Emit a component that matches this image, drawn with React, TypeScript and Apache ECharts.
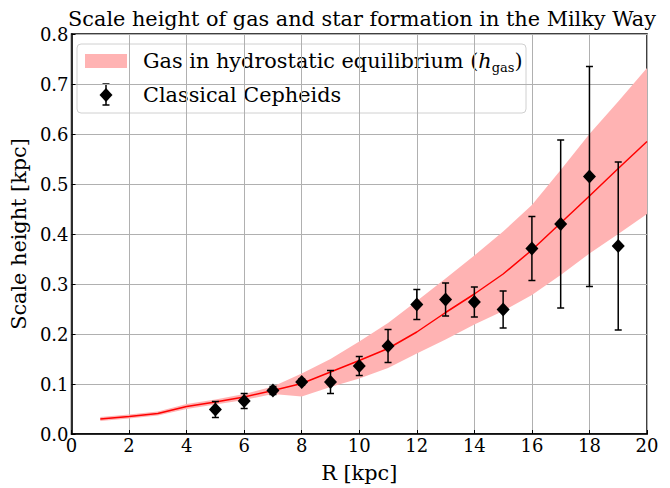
import React, { useEffect, useRef } from "react";
import * as echarts from "echarts";

// Galactocentric radius grid of the hydrostatic gas model [kpc]
const R_MODEL = [1, 2, 3, 4, 5, 6, 7, 8, 9, 10, 11, 12, 13, 14, 15, 16, 17, 18, 19, 20];
// Gas scale height h_gas and its uncertainty envelope [kpc]
const H_GAS = [0.030, 0.035, 0.041, 0.055, 0.064, 0.074, 0.087, 0.101, 0.124, 0.147, 0.171, 0.204, 0.243, 0.280, 0.320, 0.368, 0.422, 0.476, 0.531, 0.585];
const H_GAS_LOW = [0.026, 0.031, 0.037, 0.050, 0.059, 0.068, 0.080, 0.075, 0.094, 0.111, 0.132, 0.161, 0.189, 0.219, 0.246, 0.278, 0.318, 0.361, 0.400, 0.440];
const H_GAS_HIGH = [0.034, 0.039, 0.045, 0.060, 0.069, 0.080, 0.095, 0.121, 0.150, 0.185, 0.222, 0.266, 0.311, 0.357, 0.405, 0.458, 0.528, 0.600, 0.665, 0.732];

// Classical Cepheids: radius bins, scale height and 1-sigma error [kpc]
const R_CEPH = [5, 6, 7, 8, 9, 10, 11, 12, 13, 14, 15, 16, 17, 18, 19];
const H_CEPH = [0.049, 0.066, 0.087, 0.104, 0.104, 0.136, 0.176, 0.259, 0.269, 0.264, 0.249, 0.371, 0.420, 0.515, 0.376];
const H_CEPH_ERR = [0.016, 0.015, 0.008, 0.006, 0.023, 0.019, 0.033, 0.030, 0.033, 0.030, 0.037, 0.064, 0.168, 0.220, 0.168];

const X_TICKS = [0, 20, 2];
const Y_TICKS = [0, 0.8, 0.1];

const FONT = "DejaVu Serif";
const BIG = 20.8;
const TICK = 18;
const BAND_COLOR = "#ffb3b3";

export default function App() {
  const ref = useRef<HTMLDivElement>(null);

  useEffect(() => {
    if (!ref.current) return;
    const chart = echarts.init(ref.current, null, { renderer: "svg" });

    const bandData = R_MODEL.map((r, i) => [r, H_GAS_LOW[i], H_GAS_HIGH[i]]);
    const errData = R_CEPH.map((r, i) => [r, H_CEPH[i], H_CEPH_ERR[i]]);

    const option: any = {
      animation: false,
      backgroundColor: "#ffffff",
      title: {
        text: "Scale height of gas and star formation in the Milky Way",
        left: 357,
        top: 3,
        textAlign: "center",
        textStyle: { fontFamily: FONT, fontSize: BIG, fontWeight: "normal", color: "#000" },
      },
      grid: {
        left: 67,
        right: 23,
        top: 34,
        bottom: 41,
        show: true,
        borderColor: "#000",
        borderWidth: 1.5,
        backgroundColor: "transparent",
      },
      xAxis: {
        type: "value",
        min: X_TICKS[0],
        max: X_TICKS[1],
        interval: X_TICKS[2],
        name: "R [kpc]",
        nameLocation: "middle",
        nameGap: 28,
        nameTextStyle: { fontFamily: FONT, fontSize: BIG, color: "#000" },
        axisLine: { show: true, lineStyle: { color: "#000", width: 1.5 } },
        axisTick: { show: true, inside: true, length: 4, lineStyle: { color: "#000", width: 1 } },
        axisLabel: { fontFamily: FONT, fontSize: TICK, color: "#000", margin: 2 },
        splitLine: { show: true, lineStyle: { color: "#b0b0b0", width: 1 } },
      },
      yAxis: {
        type: "value",
        min: Y_TICKS[0],
        max: Y_TICKS[1],
        interval: Y_TICKS[2],
        name: "Scale height [kpc]",
        nameLocation: "middle",
        nameGap: 38,
        nameTextStyle: { fontFamily: FONT, fontSize: BIG, color: "#000" },
        axisLine: { show: true, lineStyle: { color: "#000", width: 1.5 } },
        axisTick: { show: true, inside: true, length: 4, lineStyle: { color: "#000", width: 1 } },
        axisLabel: {
          fontFamily: FONT,
          fontSize: TICK,
          color: "#000",
          margin: 3,
          formatter: (v: number) => v.toFixed(1),
        },
        splitLine: { show: true, lineStyle: { color: "#b0b0b0", width: 1 } },
      },
      series: [
        {
          name: "band",
          type: "custom",
          data: bandData,
          encode: { x: 0, y: [1, 2] },
          clip: true,
          z: 2,
          renderItem: (params: any, api: any) => {
            if (params.dataIndex !== 0) return null;
            const pts: number[][] = [];
            for (let i = 0; i < R_MODEL.length; i++) pts.push(api.coord([R_MODEL[i], H_GAS_HIGH[i]]));
            for (let i = R_MODEL.length - 1; i >= 0; i--) pts.push(api.coord([R_MODEL[i], H_GAS_LOW[i]]));
            return {
              type: "polygon",
              shape: { points: pts },
              style: { fill: BAND_COLOR, stroke: "none" },
            };
          },
        },
        {
          name: "h_gas",
          type: "line",
          data: R_MODEL.map((r, i) => [r, H_GAS[i]]),
          symbol: "none",
          lineStyle: { color: "#ff0000", width: 1.5 },
          z: 3,
        },
        {
          name: "errors",
          type: "custom",
          data: errData,
          encode: { x: 0, y: 1 },
          z: 4,
          renderItem: (params: any, api: any) => {
            const x = api.value(0);
            const y = api.value(1);
            const e = api.value(2);
            const top = api.coord([x, y + e]);
            const bot = api.coord([x, y - e]);
            const cap = 3.5;
            const style = { stroke: "#000", lineWidth: 1.5 };
            return {
              type: "group",
              children: [
                { type: "line", shape: { x1: top[0], y1: top[1], x2: bot[0], y2: bot[1] }, style },
                { type: "line", shape: { x1: top[0] - cap, y1: top[1], x2: top[0] + cap, y2: top[1] }, style },
                { type: "line", shape: { x1: bot[0] - cap, y1: bot[1], x2: bot[0] + cap, y2: bot[1] }, style },
              ],
            };
          },
        },
        {
          name: "Classical Cepheids",
          type: "scatter",
          data: R_CEPH.map((r, i) => [r, H_CEPH[i]]),
          symbol: "diamond",
          symbolSize: [13, 14],
          itemStyle: { color: "#000", opacity: 1 },
          z: 5,
        },
      ],
      graphic: [
        {
          type: "group",
          z: 100,
          children: [
            {
              type: "rect",
              shape: { x: 77, y: 44, width: 449, height: 69, r: 4 },
              style: { fill: "rgba(255,255,255,0.8)", stroke: "#d0d0d0", lineWidth: 1 },
            },
            {
              type: "rect",
              shape: { x: 85, y: 54, width: 42, height: 14 },
              style: { fill: BAND_COLOR },
            },
            {
              type: "text",
              x: 143,
              y: 61,
              style: {
                text: "{n|Gas in hydrostatic equilibrium (}{h|h}{s|gas}{n|)}",
                verticalAlign: "middle",
                rich: {
                  n: { fontFamily: FONT, fontSize: BIG, color: "#000", lineHeight: 26, verticalAlign: "middle" },
                  h: { fontFamily: FONT, fontSize: BIG, fontStyle: "italic", color: "#000", lineHeight: 26, verticalAlign: "middle" },
                  s: { fontFamily: FONT, fontSize: 13, color: "#000", lineHeight: 26, verticalAlign: "bottom" },
                },
              },
            },
            { type: "line", shape: { x1: 106, y1: 84, x2: 106, y2: 105 }, style: { stroke: "#000", lineWidth: 1.5 } },
            { type: "line", shape: { x1: 102.5, y1: 84, x2: 109.5, y2: 84 }, style: { stroke: "#000", lineWidth: 1.5 } },
            { type: "line", shape: { x1: 102.5, y1: 105, x2: 109.5, y2: 105 }, style: { stroke: "#000", lineWidth: 1.5 } },
            {
              type: "polygon",
              shape: { points: [[106, 88], [112.5, 95], [106, 102], [99.5, 95]] },
              style: { fill: "#000" },
            },
            {
              type: "text",
              x: 143,
              y: 95,
              style: {
                text: "Classical Cepheids",
                fontFamily: FONT,
                fontSize: BIG,
                fill: "#000",
                verticalAlign: "middle",
              },
            },
          ],
        },
      ],
    };

    chart.setOption(option);
    return () => chart.dispose();
  }, []);

  return (
    <div
      ref={ref}
      style={{ position: "fixed", left: 0, top: 0, width: 670, height: 488 }}
    />
  );
}
